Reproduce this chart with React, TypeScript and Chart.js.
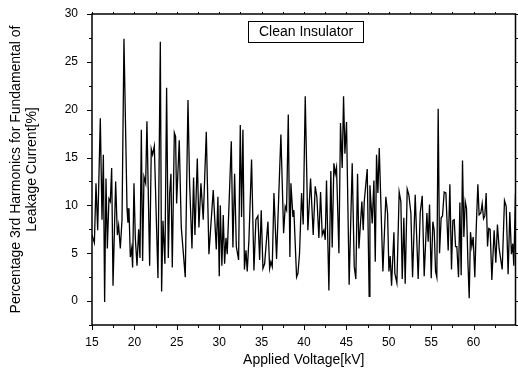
import React, { useEffect, useRef } from "react";
import { Chart, registerables } from "chart.js";

Chart.register(...registerables);

const voltage: number[] = [
  15.0, 15.28, 15.47, 15.67, 15.98, 16.18, 16.34, 16.49, 16.65, 16.81, 17.0, 17.16, 17.32, 17.48, 17.79, 17.99,
  18.14, 18.34, 18.54, 18.77, 19.13, 19.24, 19.36, 19.52, 19.68, 19.79, 19.95, 20.11, 20.31, 20.5, 20.66, 20.82,
  20.97, 21.13, 21.33, 21.48, 21.8, 21.99, 22.15, 22.35, 22.78, 23.06, 23.21, 23.37, 23.6, 23.8, 24.0, 24.16,
  24.31, 24.47, 24.71, 24.86, 24.98, 25.29, 25.53, 25.73, 26.0, 26.32, 26.51, 26.79, 26.98, 27.14, 27.42, 27.61,
  27.85, 28.12, 28.48, 28.79, 29.3, 29.66, 29.85, 30.01, 30.13, 30.32, 30.48, 30.64, 30.8, 30.95, 31.43, 31.62,
  31.82, 32.02, 32.29, 32.49, 32.64, 32.8, 32.98, 33.16, 33.31, 33.51, 33.82, 34.1, 34.33, 34.57, 34.77, 34.96,
  35.16, 35.36, 35.75, 35.95, 36.1, 36.26, 36.46, 36.77, 37.01, 37.28, 37.6, 37.79, 37.95, 38.15, 38.34, 38.46,
  38.7, 38.81, 39.13, 39.29, 39.48, 39.72, 39.91, 40.15, 40.46, 40.78, 41.09, 41.33, 41.52, 41.76, 41.96, 42.15,
  42.35, 42.51, 42.66, 42.94, 43.17, 43.33, 43.53, 43.69, 43.84, 44.12, 44.31, 44.51, 44.67, 44.83, 45.02, 45.33,
  45.69, 45.93, 46.12, 46.32, 46.48, 46.83, 46.99, 47.11, 47.46, 47.69, 47.78, 48.05, 48.25, 48.41, 48.56, 48.72,
  48.88, 49.31, 49.66, 49.86, 50.02, 50.17, 50.33, 50.61, 50.72, 50.96, 51.23, 51.43, 51.59, 51.78, 51.94, 52.18,
  52.37, 52.61, 52.81, 53.12, 53.47, 53.71, 53.95, 54.18, 54.5, 54.65, 54.81, 55.01, 55.2, 55.36, 55.52, 55.67,
  55.83, 55.99, 56.18, 56.34, 56.54, 56.74, 57.01, 57.21, 57.4, 57.56, 57.72, 57.88, 58.03, 58.23, 58.39, 58.54,
  58.7, 58.86, 59.02, 59.17, 59.33, 59.49, 59.64, 59.8, 59.96, 60.15, 60.31, 60.51, 60.66, 60.86, 61.02, 61.18,
  61.33, 61.49, 61.65, 61.8, 61.96, 62.16, 62.43, 62.63, 62.82, 63.02, 63.38, 63.65, 63.85, 64.08, 64.28, 64.47,
  64.63, 64.75, 64.95,
];

const harmonic: number[] = [
  6.9, 6.1, 12.3, 7.4, 19.1, 8.5, 15.3, -0.1, 12.8, 5.5, 10.7, 10.4, 13.9, 1.6, 12.5, 6.9,
  7.9, 5.5, 8.5, 27.4, 9.7, 8.2, 9.7, 4.6, 5.5, 3.5, 12.3, 6.6, 3.7, 7.5, 4.5, 17.9,
  4.2, 13.0, 12.3, 18.8, 3.7, 15.9, 15.3, 16.2, 2.4, 27.1, 1.0, 8.4, 3.9, 22.3, 4.5, 11.3,
  13.3, 3.5, 17.6, 17.2, 10.2, 16.8, 7.7, 5.5, 2.5, 21.0, 12.4, 5.5, 12.9, 6.9, 14.9, 7.7,
  12.3, 8.5, 17.7, 4.9, 11.6, 5.4, 10.9, 2.6, 10.0, 3.7, 9.0, 3.9, 6.6, 4.9, 16.7, 5.6,
  13.3, 5.7, 4.3, 18.4, 8.8, 17.9, 3.3, 5.3, 3.1, 6.4, 14.8, 3.2, 8.5, 8.9, 4.3, 9.5,
  3.4, 3.9, 8.3, 3.4, 4.1, 3.6, 11.3, 4.4, 10.6, 17.4, 7.1, 9.9, 9.5, 19.5, 4.6, 12.3,
  8.8, 9.5, 2.5, 2.9, 5.0, 11.3, 8.0, 21.4, 7.4, 12.8, 6.9, 12.0, 10.9, 6.6, 11.4, 6.9,
  7.4, 6.4, 12.6, 1.1, 13.6, 5.6, 14.4, 13.3, 14.0, 5.0, 18.6, 13.9, 21.4, 15.4, 18.7, 1.7,
  14.4, 3.6, 2.3, 13.3, 5.5, 10.4, 7.4, 10.4, 13.8, 0.5, 12.1, 8.1, 12.6, 4.1, 15.3, 11.3,
  16.0, 3.1, 10.9, 9.2, 3.1, 4.7, 1.6, 7.2, 2.9, 1.9, 11.4, 10.4, 2.3, 8.7, 1.8, 11.7,
  11.1, 9.2, 2.5, 11.1, 2.3, 9.2, 11.0, 2.6, 9.2, 6.2, 10.1, 2.4, 8.3, 7.4, 3.1, 2.5,
  20.1, 5.0, 8.7, 8.9, 11.4, 11.3, 5.3, 12.2, 3.3, 8.4, 8.5, 5.7, 5.7, 2.5, 10.3, 2.7,
  14.7, 6.7, 10.4, 9.7, 4.3, 0.3, 7.2, 5.7, 6.7, 2.5, 7.4, 12.2, 9.0, 9.2, 10.2, 8.6,
  8.9, 11.3, 5.7, 7.6, 7.5, 2.2, 7.4, 4.0, 8.0, 5.5, 3.3, 10.5, 9.9, 2.8, 9.3, 4.9,
  6.0, 3.7, 11.3,
];

const xTickValues: number[] = [15, 20, 25, 30, 35, 40, 45, 50, 55, 60];
const yTickValues: number[] = [0, 5, 10, 15, 20, 25, 30];
const xMinorValues: number[] = [17.5, 22.5, 27.5, 32.5, 37.5, 42.5, 47.5, 52.5, 57.5, 62.5];
const yMinorValues: number[] = [-2.5, 2.5, 7.5, 12.5, 17.5, 22.5, 27.5];

const xTitle = "Applied Voltage[kV]";
const yTitleLines: string[] = ["Percentage 3rd Harmonics for Fundamental of", "Leakage Current[%]"];
const legendText = "Clean Insulator";

const FONT = "'Liberation Sans', Arial, sans-serif";

const framePlugin = {
  id: "frame",
  afterDatasetsDraw(chart: any) {
    const { ctx, chartArea, scales } = chart;
    const { left, right, top, bottom } = chartArea;
    const xs = scales.x;
    const ys = scales.y;
    ctx.save();
    ctx.strokeStyle = "#000";
    ctx.lineWidth = 1;
    ctx.beginPath();
    const tickX = (v: number, len: number) => {
      const px = Math.round(xs.getPixelForValue(v)) + 0.5;
      ctx.moveTo(px, bottom);
      ctx.lineTo(px, bottom + len);
      ctx.moveTo(px, top);
      ctx.lineTo(px, top - 2);
    };
    const tickY = (v: number, len: number) => {
      const py = Math.round(ys.getPixelForValue(v)) + 0.5;
      ctx.moveTo(left, py);
      ctx.lineTo(left - len, py);
      ctx.moveTo(right, py);
      ctx.lineTo(right + len, py);
    };
    xTickValues.forEach((v) => tickX(v, 5));
    xMinorValues.forEach((v) => tickX(v, 3));
    yTickValues.forEach((v) => tickY(v, 5));
    yMinorValues.forEach((v) => tickY(v, 3));
    ctx.stroke();
    ctx.lineWidth = 1.5;
    ctx.strokeRect(left, top, right - left, bottom - top);

    ctx.font = `14px ${FONT}`;
    ctx.fillStyle = "#000";
    ctx.textAlign = "center";
    ctx.textBaseline = "middle";
    ctx.fillText(legendText, 306, 32.5);
    ctx.lineWidth = 1;
    ctx.strokeRect(248.5, 21.5, 115, 21);

    ctx.fillText(xTitle, (left + right) / 2, 360);

    ctx.translate(0, (top + bottom) / 2);
    ctx.rotate(-Math.PI / 2);
    ctx.fillText(yTitleLines[0], 0, 16);
    ctx.fillText(yTitleLines[1], 0, 32);
    ctx.restore();
  },
};

export default function App() {
  const canvasRef = useRef<HTMLCanvasElement | null>(null);

  useEffect(() => {
    document.body.style.margin = "0";
    const canvas = canvasRef.current;
    if (!canvas) return;
    const points = voltage.map((x, i) => ({ x, y: harmonic[i] }));
    const chart = new Chart(canvas, {
      type: "line",
      data: {
        datasets: [
          {
            data: points,
            borderColor: "#000",
            borderWidth: 1.3,
            pointRadius: 0,
            tension: 0,
            fill: false,
          },
        ],
      },
      options: {
        animation: false,
        responsive: false,
        maintainAspectRatio: false,
        layout: { padding: { top: 14, right: 2.5, left: 0, bottom: 0 } },
        plugins: { legend: { display: false }, tooltip: { enabled: false }, title: { display: false } },
        scales: {
          x: {
            type: "linear",
            min: 15,
            max: 64.95,
            grid: { display: false },
            border: { display: false },
            afterBuildTicks: (scale: any) => {
              scale.ticks = xTickValues.map((v) => ({ value: v }));
            },
            afterFit: (scale: any) => {
              scale.height = 45;
            },
            ticks: {
              color: "#000",
              font: { family: FONT, size: 12 },
              padding: 2,
              maxRotation: 0,
              autoSkip: false,
              callback: (v: any) => String(v),
            },
          },
          y: {
            type: "linear",
            min: -2.5,
            max: 30,
            grid: { display: false },
            border: { display: false },
            afterBuildTicks: (scale: any) => {
              scale.ticks = yTickValues.map((v) => ({ value: v }));
            },
            afterFit: (scale: any) => {
              scale.width = 92;
            },
            ticks: {
              color: "#000",
              font: { family: FONT, size: 12 },
              padding: 6,
              autoSkip: false,
              callback: (v: any) => String(v),
            },
          },
        },
      },
      plugins: [framePlugin],
    });
    return () => chart.destroy();
  }, []);

  return (
    <div style={{ position: "absolute", left: 0, top: 0, width: 518, height: 370, background: "#fff" }}>
      <canvas ref={canvasRef} width={518} height={370} style={{ display: "block", width: 518, height: 370 }} />
    </div>
  );
}
